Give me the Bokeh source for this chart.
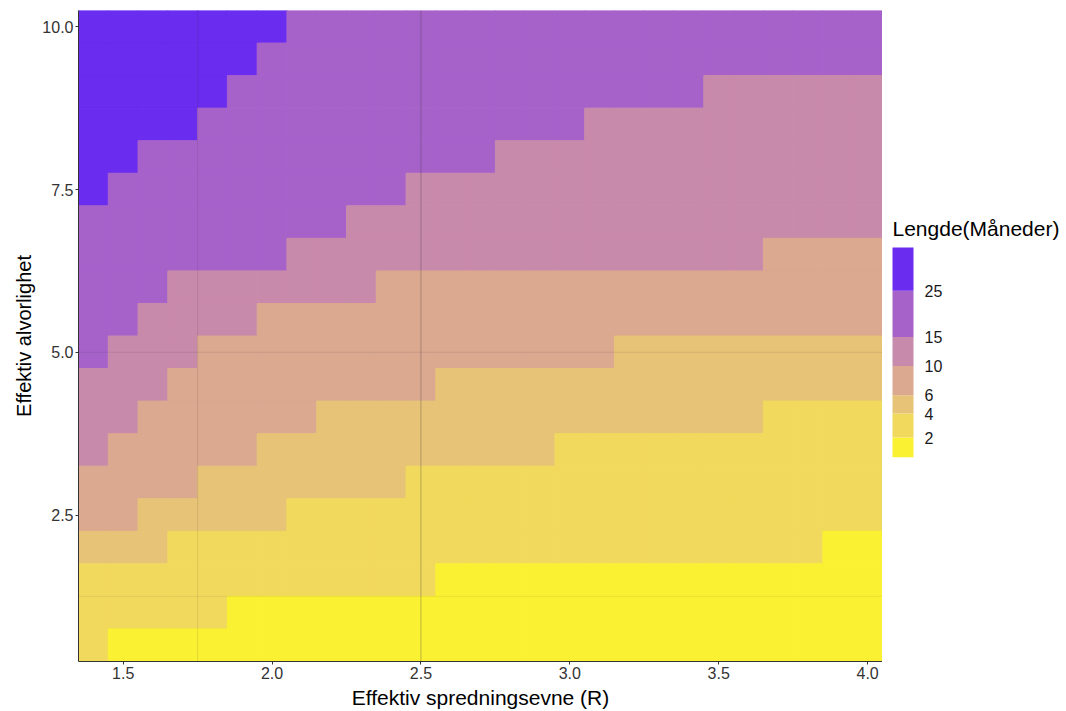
import numpy as np
from bokeh.plotting import figure
from bokeh.layouts import row
from bokeh.models import ColumnDataSource, Range1d, FixedTicker, NumeralTickFormatter, Span
from bokeh.embed import file_html
from bokeh.resources import INLINE
from bokeh.core.properties import value

FONT = "Liberation Sans"

# Effective reproduction number (columns) and effective severity (rows, top to bottom)
r_values = [1.4, 1.5, 1.6, 1.7, 1.8, 1.9, 2.0, 2.1, 2.2, 2.3, 2.4, 2.5, 2.6, 2.7,
            2.8, 2.9, 3.0, 3.1, 3.2, 3.3, 3.4, 3.5, 3.6, 3.7, 3.8, 3.9, 4.0]
severity_values = [10.0, 9.5, 9.0, 8.5, 8.0, 7.5, 7.0, 6.5, 6.0, 5.5,
                   5.0, 4.5, 4.0, 3.5, 3.0, 2.5, 2.0, 1.5, 1.0, 0.5]

# Duration class of each cell, one string per severity row, one digit per R value
# 0: < 2, 1: 2-4, 2: 4-6, 3: 6-10, 4: 10-15, 5: 15-25, 6: > 25 months
duration_class = [
    "6666666" "55555" "55555" "55555" "55555",
    "666666" "5" "55555" "55555" "55555" "55555",
    "66666" "55555" "55555" "55555" "5" "444444",
    "6666" "55555" "55555" "555" "44444" "44444",
    "66" "55555" "55555" "55" "44444" "44444" "444",
    "6" "55555" "55555" "44444" "44444" "44444" "4",
    "55555" "5555" "44444" "44444" "44444" "444",
    "55555" "55" "44444" "44444" "44444" "4" "3333",
    "555" "44444" "44" "33333" "33333" "33333" "33",
    "55" "4444" "33333" "33333" "33333" "33333" "3",
    "5" "444" "33333" "33333" "3333" "22222" "2222",
    "444" "33333" "3333" "22222" "22222" "22222",
    "44" "33333" "3" "22222" "22222" "22222" "1111",
    "4" "33333" "22222" "22222" "11111" "11111" "1",
    "3333" "22222" "22" "11111" "11111" "11111" "1",
    "33" "22222" "11111" "11111" "11111" "11111",
    "222" "11111" "11111" "11111" "11111" "11" "00",
    "11111" "11111" "11" "00000" "00000" "00000",
    "11111" "00000" "00000" "00000" "00000" "00",
    "1" "00000" "00000" "00000" "00000" "00000" "0",
]

class_colors = ["#FAF133", "#F1D95D", "#E7C377", "#DBA890", "#C88AAB", "#A762CA", "#6A2CEE"]

# Binned colour scale (months): break points and range of the data
duration_breaks = [2, 4, 6, 10, 15, 25]
duration_limits = [0.87, 36.7]

x_ticks = [1.5, 2.0, 2.5, 3.0, 3.5, 4.0]
y_ticks = [2.5, 5.0, 7.5, 10.0]

# Reference values of R and severity marked with thin lines
ref_r = [1.75, 2.5]
ref_r_alpha = [0.12, 0.3]
ref_severity = [1.25, 5.0]
ref_severity_alpha = [0.08, 0.12]

xs, ys, cols = [], [], []
for sev, codes in zip(severity_values, duration_class):
    for r, c in zip(r_values, codes):
        xs.append(r)
        ys.append(sev)
        cols.append(class_colors[int(c)])
tiles = ColumnDataSource(dict(x=xs, y=ys, color=cols))

BORDER_TOP, BORDER_BOTTOM = 10, 49
HEIGHT = 711

p = figure(width=882, height=HEIGHT, output_backend="svg", toolbar_location=None,
           x_range=Range1d(1.35, 4.05), y_range=Range1d(0.25, 10.25),
           min_border_left=78, min_border_right=0,
           min_border_top=BORDER_TOP, min_border_bottom=BORDER_BOTTOM)
p.rect(x="x", y="y", width=0.1, height=0.5, fill_color="color", line_color="color",
       line_width=1, source=tiles)

for xv, a in zip(ref_r, ref_r_alpha):
    p.add_layout(Span(location=xv, dimension="height", line_color="#333333", line_alpha=a, line_width=1))
for yv, a in zip(ref_severity, ref_severity_alpha):
    p.add_layout(Span(location=yv, dimension="width", line_color="#333333", line_alpha=a, line_width=1))

p.grid.visible = False
p.outline_line_color = None
p.background_fill_color = "white"
p.xaxis.ticker = FixedTicker(ticks=x_ticks)
p.yaxis.ticker = FixedTicker(ticks=y_ticks)
p.axis.formatter = NumeralTickFormatter(format="0.0")
p.xaxis.axis_label = "Effektiv spredningsevne (R)"
p.yaxis.axis_label = "Effektiv alvorlighet"
for ax in (p.xaxis[0], p.yaxis[0]):
    ax.axis_line_color = "#333333"
    ax.axis_line_width = 1
    ax.major_tick_line_color = "#333333"
    ax.major_tick_out = 3
    ax.major_tick_in = 0
    ax.minor_tick_line_color = None
    ax.major_label_text_font = FONT
    ax.major_label_text_font_size = "16px"
    ax.major_label_text_color = "#333333"
    ax.major_label_standoff = 2
    ax.axis_label_text_font = FONT
    ax.axis_label_text_font_style = "normal"
    ax.axis_label_text_color = "black"
    ax.axis_label_standoff = 4
p.xaxis.axis_label_text_font_size = "21px"
p.yaxis.axis_label_text_font_size = "20px"

# Legend: stepped colour bar with segment heights on a square-root scale
px_per_unit = 41.0
frame_h = HEIGHT - BORDER_TOP - BORDER_BOTTOM
top_val = 5 + (290.7 - BORDER_TOP) / px_per_unit
lg = figure(width=184, height=HEIGHT, output_backend="svg", toolbar_location=None,
            x_range=Range1d(0, 184), y_range=Range1d(top_val - frame_h / px_per_unit, top_val),
            x_axis_location=None, y_axis_location=None,
            min_border_left=0, min_border_right=0,
            min_border_top=BORDER_TOP, min_border_bottom=BORDER_BOTTOM)
lg.grid.visible = False
lg.outline_line_color = None

edges = [duration_limits[0]] + duration_breaks + [duration_limits[1]]
seg = ColumnDataSource(dict(bottom=np.sqrt(edges[:-1]), top=np.sqrt(edges[1:]), color=class_colors))
lg.quad(left=10, right=31, bottom="bottom", top="top", fill_color="color", line_color=None, source=seg)

lab = ColumnDataSource(dict(y=np.sqrt(duration_breaks), text=[str(b) for b in duration_breaks]))
lg.text(x=42, y="y", text="text", source=lab, text_font=value(FONT), text_font_size="16px",
        text_baseline="middle", text_align="left", text_color="#1a1a1a")
lg.text(x=[10], y=[np.sqrt(duration_limits[1]) + 0.47], text=["Lengde(Måneder)"],
        text_font=value(FONT), text_font_size="21px", text_baseline="middle",
        text_align="left", text_color="black")

layout = row(p, lg)
open("out.html", "w").write(file_html(layout, INLINE))
